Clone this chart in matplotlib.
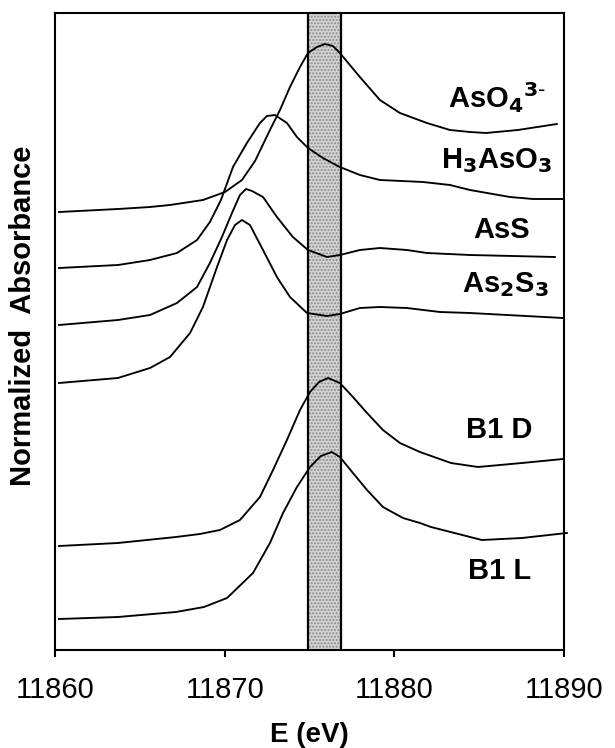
import matplotlib
matplotlib.use("Agg")
import matplotlib.pyplot as plt

plt.rcParams['font.family'] = ['Liberation Sans', 'DejaVu Sans']

# ---- data (energy offset from 11860 eV, absorbance in arbitrary offset units) ----
E0 = 11860.0

de_aso4 = [0.24, 3.71, 5.60, 6.78, 8.72, 10.02, 11.02, 11.79, 12.67, 13.26, 13.85, 14.44, 14.91,
           15.44, 15.91, 16.38, 16.79, 17.97, 19.15, 20.33, 21.92, 23.28, 24.46, 25.40, 27.28, 29.58]
y_aso4 = [438, 441, 443, 445, 450, 458, 470, 489, 520, 540, 563, 583, 597,
          603, 606, 604, 597, 573, 550, 537, 527, 520, 518, 517, 520, 526]

de_h3aso3 = [0.24, 3.71, 5.60, 7.19, 8.37, 9.13, 9.78, 10.49, 11.31, 12.08, 12.49, 12.96, 13.67,
             14.26, 14.91, 15.79, 16.79, 17.97, 19.15, 21.69, 23.28, 24.46, 26.81, 28.17, 29.94]
y_h3aso3 = [382, 385, 390, 397, 410, 428, 450, 483, 507, 527, 534, 535, 527,
            513, 502, 492, 483, 475, 470, 468, 465, 460, 453, 451, 451]

de_ass = [0.24, 3.71, 5.60, 7.19, 8.37, 9.13, 9.84, 10.43, 10.90, 11.26, 11.61, 12.26, 13.08,
          14.02, 14.91, 16.03, 16.79, 17.97, 19.15, 20.74, 21.92, 24.46, 29.46]
y_ass = [325, 330, 335, 347, 363, 387, 413, 437, 455, 461, 459, 453, 433,
         413, 400, 393, 395, 400, 402, 400, 397, 395, 393]

de_as2s3 = [0.24, 3.71, 5.60, 6.78, 7.96, 8.72, 9.55, 10.14, 10.61, 11.02, 11.49, 12.26, 13.08,
            13.85, 14.85, 16.03, 16.79, 17.97, 19.15, 20.74, 22.69, 24.46, 29.94]
y_as2s3 = [267, 272, 282, 293, 317, 343, 383, 410, 425, 430, 425, 400, 373,
           353, 337, 334, 336, 342, 343, 342, 338, 337, 332]

de_b1d = [0.24, 3.71, 7.13, 8.54, 9.72, 10.90, 12.08, 12.85, 13.67, 14.44, 15.03, 15.56, 16.09,
          16.79, 17.56, 18.39, 19.33, 20.33, 21.51, 23.34, 24.93, 27.52, 29.94]
y_b1d = [104, 107, 113, 116, 120, 130, 153, 180, 210, 240, 258, 268, 272,
         267, 253, 237, 220, 207, 198, 187, 183, 187, 191]

de_b1l = [0.24, 3.71, 7.13, 8.78, 10.14, 11.67, 12.67, 13.44, 14.26, 15.03, 15.67, 16.32, 16.79,
          17.56, 18.39, 19.33, 20.51, 21.51, 22.16, 25.16, 27.52, 30.17]
y_b1l = [31, 33, 38, 43, 52, 77, 107, 137, 163, 183, 194, 198, 193,
         177, 160, 143, 132, 127, 123, 110, 112, 117]

series = [de_aso4, de_h3aso3, de_ass, de_as2s3, de_b1d, de_b1l]
values = [y_aso4, y_h3aso3, y_ass, y_as2s3, y_b1d, y_b1l]
names = [r'AsO$_\mathbf{4}$$^\mathbf{3\text{-}}$', r'H$_\mathbf{3}$AsO$_\mathbf{3}$', 'AsS',
         r'As$_\mathbf{2}$S$_\mathbf{3}$', 'B1 D', 'B1 L']
label_x = [26.05, 26.05, 26.34, 26.52, 26.16, 26.22]
label_y = [552, 489, 420, 365, 220, 79]

band = [11874.93, 11876.85]
xticks = [11860, 11870, 11880, 11890]

fig = plt.figure(figsize=(6.15, 7.48), dpi=100)
ax = fig.add_axes([55/615, 98/748, 509/615, 637/748])

ax.axvspan(band[0], band[1], facecolor='#d4d4d4', edgecolor='#8a8a8a', hatch='.....', linewidth=0, zorder=1)
ax.axvline(band[0], color='black', lw=1.6, zorder=2)
ax.axvline(band[1], color='black', lw=1.6, zorder=2)

for de, y in zip(series, values):
    ax.plot([E0 + d for d in de], y, color='black', lw=1.35, zorder=3, clip_on=False,
            solid_joinstyle='round')

for name, lx, ly in zip(names, label_x, label_y):
    ax.text(E0 + lx, ly, name, fontsize=21, fontweight='bold', ha='center', va='center', zorder=4)

ax.set_xlim(11860, 11890)
ax.set_ylim(0, 637)
ax.set_xticks(xticks)
ax.set_xticklabels([str(t) for t in xticks])
ax.set_yticks([])
ax.tick_params(axis='x', direction='out', length=5, width=1.5, labelsize=21, pad=14)
for s in ax.spines.values():
    s.set_linewidth(1.5)

ax.set_xlabel('E (eV)', fontsize=20, fontweight='bold', labelpad=13)
ax.set_ylabel('Normalized  Absorbance', fontsize=21, fontweight='bold')
ax.yaxis.set_label_coords(-0.035, 0.524)

fig.savefig('out.png', dpi=100)
